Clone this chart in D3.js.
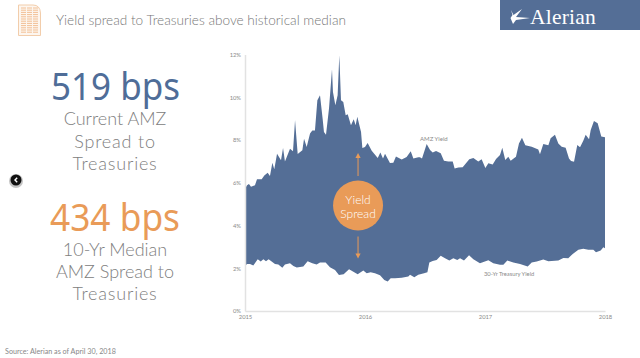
<!DOCTYPE html>
<html>
<head>
<meta charset="utf-8">
<script src="https://cdn.jsdelivr.net/npm/d3@7"></script>
<style>
    html, body { margin: 0; padding: 0; background: #fff; }
    svg { display: block; }
    text { font-family: Lato, "Open Sans", sans-serif; fill: #8a8a8a; }
    .big { font-family: "Noto Sans", "Open Sans", sans-serif; font-size: 39px; text-anchor: middle; }
    .sub { font-size: 18px; font-weight: 300; text-anchor: middle; fill: #808080; }
    .wide { letter-spacing: 0.8px; }
    .tick text { font-size: 5.8px; fill: #8a8a8a; }
</style>
</head>
<body>
<svg id="chart" width="640" height="358"></svg>
<script>
    // values, x is decimal years from 2015
    var amzYears = [0, .017, .033, .05, .083, .1, .139, .161, .189, .208, .228, .244, .267, .3, .317, .333, .375, .4, .417, .439,
        .478, .492, .514, .542, .561, .583, .603, .625, .647, .658, .675, .7, .725, .733, .753, .772, .786, .8, .819, .839,
        .856, .883, .906, .922, .936, .967, .978, 1, 1.022, 1.056, 1.106, 1.128, 1.15, 1.167, 1.208, 1.236, 1.258, 1.306, 1.347, 1.381,
        1.403, 1.444, 1.458, 1.475, 1.514, 1.542, 1.564, 1.592, 1.631, 1.658, 1.694, 1.731, 1.747, 1.778, 1.814, 1.833, 1.869, 1.903, 1.944, 1.972,
        2.003, 2.028, 2.064, 2.092, 2.125, 2.144, 2.169, 2.194, 2.214, 2.258, 2.283, 2.308, 2.336, 2.389, 2.444, 2.458, 2.486, 2.528, 2.547, 2.583,
        2.611, 2.639, 2.672, 2.7, 2.717, 2.742, 2.769, 2.792, 2.819, 2.839, 2.867, 2.881, 2.908, 2.939, 2.969, 3];
    var amzYield = [5.72, 5.88, 5.94, 5.81, 5.88, 6.16, 6.16, 6.34, 6.47, 6.31, 6.94, 6.63, 7.36, 7.05, 7.63, 7, 7.59, 7.47, 8.92, 7.34,
        7.52, 8.06, 7.67, 8.3, 8.45, 8.45, 9.86, 10.09, 9, 8.38, 8.25, 9.47, 11.31, 10.25, 9.63, 10.09, 11.97, 9.86, 9.78, 9.16,
        9.2, 8.69, 8.97, 8.69, 9.09, 8.38, 7.63, 7.67, 7.86, 7.5, 7.16, 7.41, 7.13, 7.36, 6.92, 6.94, 7.23, 7.09, 7.2, 7.47,
        7.13, 7.19, 7.19, 7.14, 7.81, 7.53, 7.41, 7.49, 7.38, 7.03, 7, 7, 6.67, 6.71, 6.72, 6.85, 7.1, 7.16, 6.99, 7.1,
        6.69, 6.91, 6.85, 7.11, 7.3, 7.64, 7.06, 7.22, 7.03, 7.22, 7.84, 8.11, 7.76, 7.69, 7.56, 7.33, 7.81, 7.75, 8.08, 8.25,
        7.84, 7.69, 7.64, 7.14, 7.02, 6.98, 7.77, 7.66, 7.97, 8.24, 8.03, 8.47, 8.89, 8.78, 8.16, 8.13];

    var tsyYears = [0, .017, .042, .069, .106, .131, .153, .175, .197, .25, .278, .311, .333, .375, .403, .431, .486, .522, .561, .597,
        .625, .672, .708, .75, .783, .822, .867, .903, .939, .986, 1.014, 1.047, 1.083, 1.125, 1.161, 1.189, 1.214, 1.25, 1.306, 1.361,
        1.375, 1.411, 1.444, 1.492, 1.52, 1.536, 1.564, 1.597, 1.631, 1.667, 1.703, 1.736, 1.769, 1.792, 1.825, 1.867, 1.903, 1.958, 2.028, 2.069,
        2.125, 2.153, 2.186, 2.236, 2.292, 2.356, 2.389, 2.431, 2.486, 2.528, 2.611, 2.653, 2.694, 2.731, 2.778, 2.819, 2.861, 2.903, 2.925, 2.964, 2.986, 3];
    var tsyYield = [2.11, 2.2, 2.2, 2.13, 2.42, 2.31, 2.42, 2.33, 2.42, 2.2, 2.17, 2.02, 2.17, 2.23, 2.11, 2.03, 2.08, 2.33, 2.23, 2.17,
        2.27, 2.27, 2.05, 1.92, 1.69, 1.72, 1.95, 1.84, 1.72, 1.89, 1.77, 1.81, 1.77, 1.67, 1.45, 1.38, 1.53, 1.53, 1.56, 1.61,
        1.7, 1.58, 1.7, 1.77, 1.81, 2.27, 2.34, 2.39, 2.58, 2.47, 2.36, 2.47, 2.39, 2.47, 2.36, 2.61, 2.42, 2.23, 2.38, 2.23,
        2.16, 2.16, 2.36, 2.27, 2.2, 2.08, 2.27, 2.31, 2.41, 2.33, 2.36, 2.48, 2.47, 2.67, 2.86, 2.91, 2.86, 2.86, 2.75, 2.83, 2.98, 2.94];

    var yearTicks = [2015, 2016, 2017, 2018];
    var yieldTicks = [0, 2, 4, 6, 8, 10, 12];

    var blue = '#546e96',
        orange = '#e99b58';

    var svg = d3.select('#chart');

    var x = d3.scaleLinear().domain([2015, 2018]).range([245, 605]),
        y = d3.scaleLinear().domain([0, 12]).range([311, 54.5]);

    function areaOf(years, values) {
        var area = d3.area()
            .x(function(d) { return x(2015 + d); })
            .y0(y(0))
            .y1(function(d, i) { return y(values[i]); });
        return area(years);
    }

    // blue to zero, then treasury in white on top of it
    svg.append('path').attr('d', areaOf(amzYears, amzYield)).attr('fill', blue);
    svg.append('path').attr('d', areaOf(tsyYears, tsyYield)).attr('fill', '#fff');

    var xAxis = d3.axisBottom(x).tickValues(yearTicks).tickFormat(d3.format('d')).tickSize(0).tickPadding(4);
    var yAxis = d3.axisLeft(y).tickValues(yieldTicks).tickFormat(function(d) { return d + '%'; }).tickSize(0).tickPadding(4);

    svg.append('g').attr('transform', 'translate(0,' + y(0) + ')').call(xAxis)
        .select('.domain').attr('stroke', '#e2e2e2').attr('stroke-width', 1.5);
    svg.append('g').attr('transform', 'translate(' + x(2015) + ',0)').call(yAxis)
        .select('.domain').attr('stroke', '#e2e2e2').attr('stroke-width', 1.5);

    svg.append('text').attr('x', 420).attr('y', 141).attr('font-size', 6).style('fill', '#8a8a8a').text('AMZ Yield');
    svg.append('text').attr('x', 484).attr('y', 276).attr('font-size', 5.8).style('fill', '#8a8a8a').text('30-Yr Treasury Yield');

    // yield spread callout
    var callX = x(2015.942);
    svg.append('circle').attr('cx', callX).attr('cy', 205.5).attr('r', 25).attr('fill', orange);
    svg.append('text').attr('x', callX).attr('y', 204).attr('text-anchor', 'middle').attr('font-size', 12).attr('font-weight', 300).style('fill', '#fff').text('Yield');
    svg.append('text').attr('x', callX).attr('y', 217.5).attr('text-anchor', 'middle').attr('font-size', 12).attr('font-weight', 300).style('fill', '#fff').text('Spread');

    function arrow(y1, y2) {
        var dir = y2 > y1 ? 1 : -1;
        svg.append('line').attr('x1', callX).attr('x2', callX).attr('y1', y1).attr('y2', y2 - dir * 4)
            .attr('stroke', orange).attr('stroke-width', 1);
        svg.append('path').attr('fill', orange)
            .attr('d', 'M' + (callX - 2.6) + ',' + (y2 - dir * 5) + 'L' + callX + ',' + y2 + 'L' + (callX + 2.6) + ',' + (y2 - dir * 5) + 'Z');
    }
    arrow(176, 153);
    arrow(236.5, 258.5);

    // left side numbers, width forced since no installed face is this narrow
    svg.append('text').attr('class', 'big').attr('x', 115.5).attr('y', 100).attr('textLength', 129).attr('lengthAdjust', 'spacingAndGlyphs').style('fill', '#4f6d98').text('519 bps');
    svg.append('text').attr('class', 'sub').attr('x', 115).attr('y', 125).text('Current AMZ');
    svg.append('text').attr('class', 'sub wide').attr('x', 115).attr('y', 147.7).text('Spread to');
    svg.append('text').attr('class', 'sub wide').attr('x', 115).attr('y', 170).text('Treasuries');

    svg.append('text').attr('class', 'big').attr('x', 115).attr('y', 230.5).attr('textLength', 130).attr('lengthAdjust', 'spacingAndGlyphs').style('fill', orange).text('434 bps');
    svg.append('text').attr('class', 'sub').attr('x', 115).attr('y', 255.5).text('10-Yr Median');
    svg.append('text').attr('class', 'sub').attr('x', 115).attr('y', 277.7).text('AMZ Spread to');
    svg.append('text').attr('class', 'sub wide').attr('x', 115).attr('y', 300).text('Treasuries');

    // header
    svg.append('text').attr('x', 56).attr('y', 25).attr('font-size', 13.6).attr('font-weight', 300).style('fill', '#777')
        .text('Yield spread to Treasuries above historical median');

    var doc = svg.append('g').attr('fill', 'none').attr('stroke', '#f2cdab');
    doc.append('path').attr('fill', '#fdf6ef').attr('d', 'M18.5,5H33Q40,5 40.5,13V35.5H18.5Z');
    d3.range(8, 34, 2.2).forEach(function(ly) {
        doc.append('line').attr('x1', 21).attr('x2', 38).attr('y1', ly).attr('y2', ly).attr('stroke', '#f2bf94').attr('stroke-dasharray', '5 1');
    });

    // logo
    svg.append('rect').attr('x', 500).attr('y', 0).attr('width', 140).attr('height', 30).attr('fill', blue);
    svg.append('path').attr('fill', '#fff').attr('d', 'M511,10L513.5,15L522,9L516,17L530,18L516,20L513,24L510.5,18L512.5,15Z');
    svg.append('text').attr('x', 530).attr('y', 23.5).attr('font-size', 21.5).attr('letter-spacing', 0.2)
        .style('font-family', '"Liberation Serif", serif').style('fill', '#fff').text('Alerian');

    // back button
    svg.append('circle').attr('cx', 16).attr('cy', 181).attr('r', 7).attr('fill', '#c4c4c4');
    svg.append('circle').attr('cx', 16).attr('cy', 180).attr('r', 5.5).attr('fill', '#111');
    svg.append('path').attr('d', 'M17.2,177.8L15,180L17.2,182.2').attr('fill', 'none').attr('stroke', '#fff').attr('stroke-width', 1.4);

    svg.append('text').attr('x', 5).attr('y', 354).attr('font-size', 7.2).style('fill', '#888')
        .text('Source: Alerian as of April 30, 2018');
</script>
</body>
</html>
